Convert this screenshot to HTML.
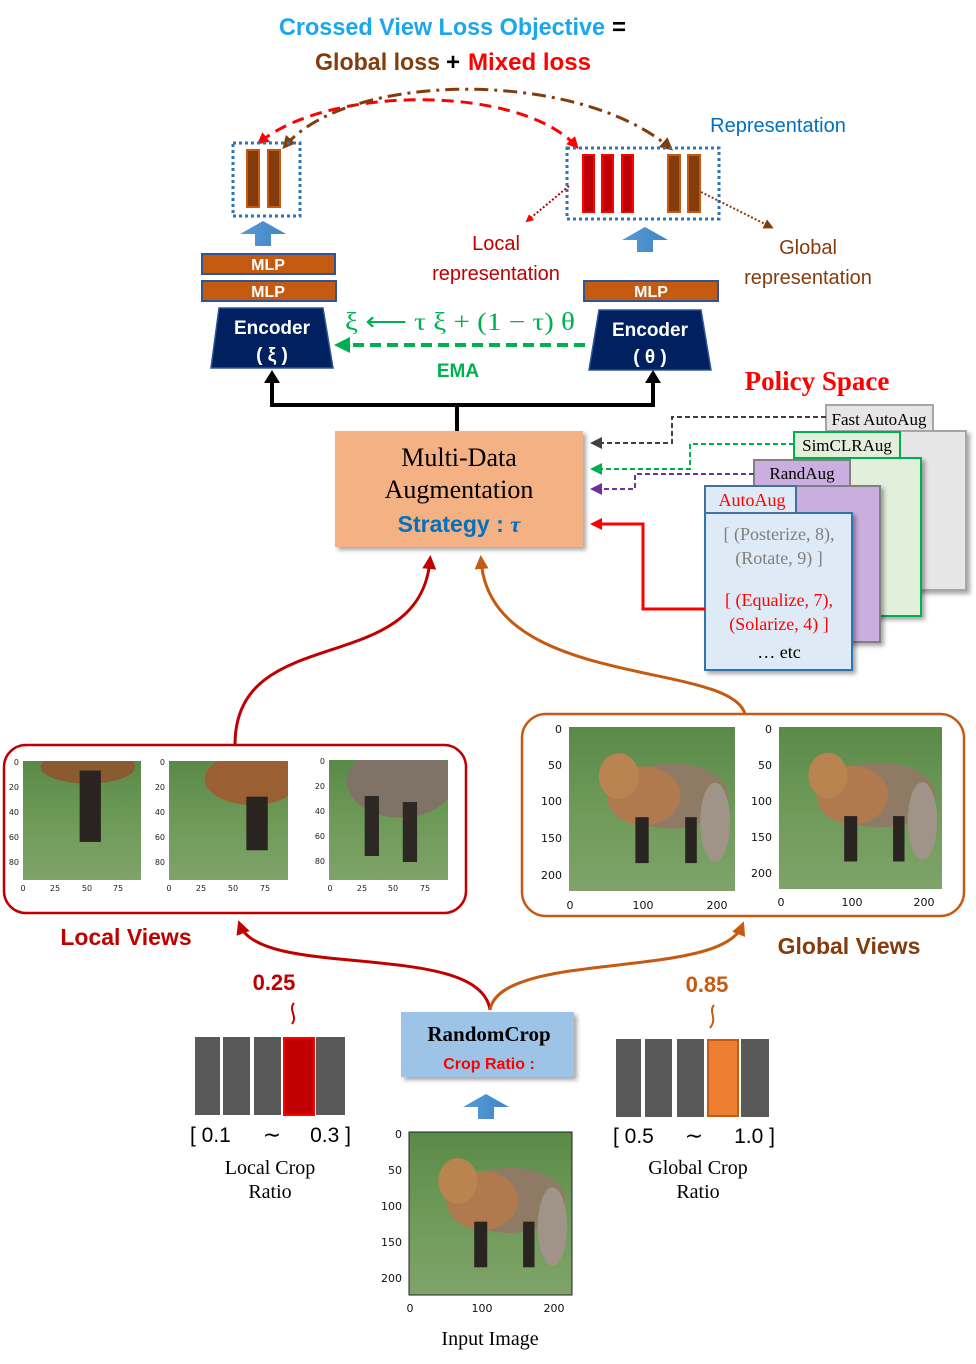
<!DOCTYPE html>
<html><head><meta charset="utf-8"><style>
html,body{margin:0;padding:0;background:#fff;}
svg{display:block;}
.cal{font-family:"Liberation Sans",sans-serif;}
.ser{font-family:"Liberation Serif",serif;}
.ax{font-family:"DejaVu Sans","Liberation Sans",sans-serif;font-size:11px;fill:#111;}
.axs{font-family:"DejaVu Sans","Liberation Sans",sans-serif;font-size:8px;fill:#222;}
</style></head><body>
<svg width="976" height="1364" viewBox="0 0 976 1364" xmlns="http://www.w3.org/2000/svg">
<defs>
<linearGradient id="grass" x1="0" y1="0" x2="0" y2="1">
<stop offset="0" stop-color="#5a8a48"/><stop offset="0.5" stop-color="#6e9a58"/><stop offset="1" stop-color="#7fa36a"/></linearGradient>
<linearGradient id="blueup" x1="0" y1="0" x2="1" y2="0"><stop offset="0" stop-color="#5b9bd5"/><stop offset="1" stop-color="#3d85c6"/></linearGradient>
<symbol id="fox" viewBox="0 0 100 100" preserveAspectRatio="none">
<rect width="100" height="100" fill="url(#grass)"/>
<ellipse cx="62" cy="42" rx="34" ry="20" fill="#8f7a66"/>
<ellipse cx="45" cy="42" rx="22" ry="18" fill="#b07a4e"/>
<ellipse cx="30" cy="30" rx="12" ry="14" fill="#b9844f"/>
<ellipse cx="88" cy="58" rx="9" ry="24" fill="#a09488"/>
<rect x="40" y="55" width="8" height="28" fill="#2a2420"/>
<rect x="70" y="55" width="7" height="28" fill="#2a2420"/>
</symbol>
<symbol id="loc1" viewBox="0 0 100 100" preserveAspectRatio="none">
<rect width="100" height="100" fill="url(#grass)"/>
<ellipse cx="55" cy="5" rx="40" ry="14" fill="#8a5a30"/>
<rect x="48" y="8" width="18" height="60" fill="#2a2420"/>
</symbol>
<symbol id="loc2" viewBox="0 0 100 100" preserveAspectRatio="none">
<rect width="100" height="100" fill="url(#grass)"/>
<ellipse cx="70" cy="15" rx="40" ry="22" fill="#9a6034"/>
<rect x="65" y="30" width="18" height="45" fill="#2a2420"/>
</symbol>
<symbol id="loc3" viewBox="0 0 100 100" preserveAspectRatio="none">
<rect width="100" height="100" fill="url(#grass)"/>
<ellipse cx="60" cy="18" rx="45" ry="30" fill="#7f7266"/>
<rect x="30" y="30" width="12" height="50" fill="#2e2824"/>
<rect x="62" y="35" width="12" height="50" fill="#2e2824"/>
</symbol>
<marker id="ar" markerWidth="8" markerHeight="8" refX="6" refY="4" orient="auto" markerUnits="userSpaceOnUse"><path d="M0,0 L8,4 L0,8 z" fill="#ff0000"/></marker>
<marker id="ab" markerWidth="10" markerHeight="10" refX="7" refY="5" orient="auto-start-reverse" markerUnits="userSpaceOnUse"><path d="M0,0 L10,5 L0,10 z" fill="#843c0c"/></marker>
<marker id="ab2" markerWidth="13" markerHeight="13" refX="9" refY="6.5" orient="auto-start-reverse" markerUnits="userSpaceOnUse"><path d="M0,0 L13,6.5 L0,13 z" fill="#843c0c"/></marker>
<marker id="ar2" markerWidth="12" markerHeight="12" refX="8" refY="6" orient="auto-start-reverse" markerUnits="userSpaceOnUse"><path d="M0,0 L12,6 L0,12 z" fill="#ff0000"/></marker>
<marker id="ak" markerWidth="12" markerHeight="12" refX="8" refY="6" orient="auto" markerUnits="userSpaceOnUse"><path d="M0,0 L12,6 L0,12 z" fill="#404040"/></marker>
<marker id="ag" markerWidth="12" markerHeight="12" refX="8" refY="6" orient="auto" markerUnits="userSpaceOnUse"><path d="M0,0 L12,6 L0,12 z" fill="#00b050"/></marker>
<marker id="ap" markerWidth="12" markerHeight="12" refX="8" refY="6" orient="auto" markerUnits="userSpaceOnUse"><path d="M0,0 L12,6 L0,12 z" fill="#7030a0"/></marker>
<marker id="adr" markerWidth="14" markerHeight="14" refX="9" refY="7" orient="auto" markerUnits="userSpaceOnUse"><path d="M0,0 L14,7 L0,14 z" fill="#c00000"/></marker>
<marker id="ado" markerWidth="14" markerHeight="14" refX="9" refY="7" orient="auto" markerUnits="userSpaceOnUse"><path d="M0,0 L14,7 L0,14 z" fill="#c55a11"/></marker>
<filter id="sh" x="-10%" y="-10%" width="130%" height="130%"><feDropShadow dx="3" dy="3" stdDeviation="2" flood-color="#000" flood-opacity="0.35"/></filter>
</defs>

<!-- Title -->
<text x="279" y="35" class="cal" font-size="24" font-weight="bold" fill="#1aa7ec" textLength="326" lengthAdjust="spacingAndGlyphs">Crossed View Loss Objective</text>
<text x="612" y="35" class="cal" font-size="24" font-weight="bold" fill="#000">=</text>
<text x="315" y="70" class="cal" font-size="24" font-weight="bold" fill="#843c0c" textLength="125" lengthAdjust="spacingAndGlyphs">Global loss</text>
<text x="446" y="70" class="cal" font-size="24" font-weight="bold" fill="#000">+</text>
<text x="468" y="70" class="cal" font-size="24" font-weight="bold" fill="#ff0000" textLength="123" lengthAdjust="spacingAndGlyphs">Mixed loss</text>

<!-- loss arcs -->
<path d="M576,146 C520,85 330,85 260,142" fill="none" stroke="#ff0000" stroke-width="3" stroke-dasharray="12,7" marker-start="url(#ar2)" marker-end="url(#ar2)"/>
<path d="M285,146 C350,70 580,70 670,148" fill="none" stroke="#843c0c" stroke-width="3" stroke-dasharray="14,6,3,6" marker-start="url(#ab2)" marker-end="url(#ab2)"/>

<!-- left repr -->
<rect x="233" y="143" width="67" height="73" fill="none" stroke="#2e75b6" stroke-width="3" stroke-dasharray="3,3"/>
<rect x="247" y="150" width="12" height="57" fill="#843c0c" stroke="#c55a11" stroke-width="2"/>
<rect x="268" y="150" width="12" height="57" fill="#843c0c" stroke="#c55a11" stroke-width="2"/>
<!-- right repr -->
<rect x="567" y="148" width="152" height="71" fill="none" stroke="#2e75b6" stroke-width="3" stroke-dasharray="3,3"/>
<rect x="583" y="155" width="11" height="57" fill="#c00000" stroke="#ff0000" stroke-width="2"/>
<rect x="602" y="155" width="11" height="57" fill="#c00000" stroke="#ff0000" stroke-width="2"/>
<rect x="622" y="155" width="11" height="57" fill="#c00000" stroke="#ff0000" stroke-width="2"/>
<rect x="668" y="155" width="12" height="57" fill="#843c0c" stroke="#c55a11" stroke-width="2"/>
<rect x="688" y="155" width="12" height="57" fill="#843c0c" stroke="#c55a11" stroke-width="2"/>
<text x="778" y="132" class="cal" font-size="20" fill="#0070c0" text-anchor="middle">Representation</text>
<path d="M569,186 L527,221" stroke="#c00000" stroke-width="2" stroke-dasharray="2,2" marker-end="url(#ar)"/>
<path d="M701,192 L771,227" stroke="#843c0c" stroke-width="2" stroke-dasharray="2,2" marker-end="url(#ab)"/>
<text x="496" y="250" class="cal" font-size="20" fill="#c00000" text-anchor="middle">Local</text>
<text x="496" y="280" class="cal" font-size="20" fill="#c00000" text-anchor="middle">representation</text>
<text x="808" y="254" class="cal" font-size="20" fill="#843c0c" text-anchor="middle">Global</text>
<text x="808" y="284" class="cal" font-size="20" fill="#843c0c" text-anchor="middle">representation</text>

<!-- up arrows -->
<path d="M255,246 L255,234 L240,234 L263,221 L286,234 L271,234 L271,246 z" fill="url(#blueup)"/>
<path d="M637,252 L637,240 L622,240 L645,227 L668,240 L653,240 L653,252 z" fill="url(#blueup)"/>

<!-- MLPs -->
<rect x="202" y="254" width="133" height="20" fill="#c55a11" stroke="#2f5597" stroke-width="2"/>
<text x="268" y="270" class="cal" font-size="16" font-weight="bold" fill="#fff" text-anchor="middle">MLP</text>
<rect x="202" y="281" width="134" height="20" fill="#c55a11" stroke="#2f5597" stroke-width="2"/>
<text x="268" y="297" class="cal" font-size="16" font-weight="bold" fill="#fff" text-anchor="middle">MLP</text>
<rect x="584" y="281" width="134" height="20" fill="#c55a11" stroke="#2f5597" stroke-width="2"/>
<text x="651" y="297" class="cal" font-size="16" font-weight="bold" fill="#fff" text-anchor="middle">MLP</text>

<!-- Encoders -->
<path d="M219,308 L323,308 L333,368 L211,368 z" fill="#002060" stroke="#2f5597" stroke-width="1.5"/>
<text x="272" y="334" class="cal" font-size="19" font-weight="bold" fill="#fff" text-anchor="middle">Encoder</text>
<text x="272" y="361" class="cal" font-size="19" font-weight="bold" fill="#fff" text-anchor="middle">( ξ )</text>
<path d="M599,310 L701,310 L711,370 L589,370 z" fill="#002060" stroke="#2f5597" stroke-width="1.5"/>
<text x="650" y="336" class="cal" font-size="19" font-weight="bold" fill="#fff" text-anchor="middle">Encoder</text>
<text x="650" y="363" class="cal" font-size="19" font-weight="bold" fill="#fff" text-anchor="middle">( θ )</text>

<!-- EMA -->
<text x="460" y="330" class="ser" font-size="25" fill="#00b050" text-anchor="middle" textLength="230" lengthAdjust="spacingAndGlyphs">ξ ⟵ τ ξ + (1 − τ) θ</text>
<line x1="585" y1="345" x2="348" y2="345" stroke="#00b050" stroke-width="4" stroke-dasharray="11,6"/>
<path d="M334,345 L350,337 L350,353 z" fill="#00b050"/>
<text x="458" y="377" class="cal" font-size="19" font-weight="bold" fill="#00b050" text-anchor="middle">EMA</text>

<!-- black connectors -->
<path d="M457,431 L457,405 L272,405 L272,380 M457,405 L653,405 L653,380" fill="none" stroke="#000" stroke-width="4"/>
<path d="M264,383 L272,370 L280,383 z" fill="#000"/>
<path d="M645,383 L653,370 L661,383 z" fill="#000"/>

<!-- Multi-data box -->
<rect x="335" y="431" width="248" height="116" fill="#f4b183" filter="url(#sh)"/>
<text x="459" y="466" class="ser" font-size="26" fill="#000" text-anchor="middle">Multi-Data</text>
<text x="459" y="498" class="ser" font-size="26" fill="#000" text-anchor="middle">Augmentation</text>
<text x="459" y="532" class="cal" font-size="23" font-weight="bold" fill="#0070c0" text-anchor="middle">Strategy : <tspan class="ser" font-style="italic">τ</tspan></text>

<text x="817" y="390" class="ser" font-size="27" font-weight="bold" fill="#ff0000" text-anchor="middle">Policy Space</text>

<!-- policy cards -->
<rect x="826" y="431" width="140" height="159" fill="#e7e6e6" stroke="#a6a6a6" stroke-width="2" filter="url(#sh)"/>
<rect x="826" y="405" width="107" height="26" fill="#e7e6e6" stroke="#a6a6a6" stroke-width="2"/>
<text x="879" y="425" class="ser" font-size="17" fill="#000" text-anchor="middle">Fast AutoAug</text>
<rect x="794" y="458" width="127" height="158" fill="#e2efda" stroke="#00b050" stroke-width="2" filter="url(#sh)"/>
<rect x="794" y="432" width="106" height="26" fill="#e2efda" stroke="#00b050" stroke-width="2"/>
<text x="847" y="451" class="ser" font-size="17" fill="#000" text-anchor="middle">SimCLRAug</text>
<rect x="754" y="486" width="126" height="156" fill="#cbaee0" stroke="#808080" stroke-width="2" filter="url(#sh)"/>
<rect x="754" y="460" width="96" height="26" fill="#cbaee0" stroke="#808080" stroke-width="2"/>
<text x="802" y="479" class="ser" font-size="17" fill="#000" text-anchor="middle">RandAug</text>
<rect x="705" y="513" width="147" height="157" fill="#deebf7" stroke="#2e75b6" stroke-width="2" filter="url(#sh)"/>
<rect x="705" y="486" width="91" height="27" fill="#deebf7" stroke="#41719c" stroke-width="2"/>
<text x="752" y="506" class="ser" font-size="18" fill="#ff0000" text-anchor="middle">AutoAug</text>
<text x="779" y="540" class="ser" font-size="18" fill="#7f7f7f" text-anchor="middle">[ (Posterize, 8),</text>
<text x="779" y="564" class="ser" font-size="18" fill="#7f7f7f" text-anchor="middle">(Rotate, 9) ]</text>
<text x="779" y="606" class="ser" font-size="18" fill="#ff0000" text-anchor="middle">[ (Equalize, 7),</text>
<text x="779" y="630" class="ser" font-size="18" fill="#ff0000" text-anchor="middle">(Solarize, 4) ]</text>
<text x="779" y="658" class="ser" font-size="18" fill="#000" text-anchor="middle">… etc</text>

<!-- policy connectors -->
<path d="M826,417 L672,417 L672,443 L594,443" fill="none" stroke="#404040" stroke-width="2" stroke-dasharray="5,3" marker-end="url(#ak)"/>
<path d="M794,444 L690,444 L690,469 L594,469" fill="none" stroke="#00b050" stroke-width="2" stroke-dasharray="5,3" marker-end="url(#ag)"/>
<path d="M754,474 L635,474 L635,489 L594,489" fill="none" stroke="#7030a0" stroke-width="2" stroke-dasharray="5,3" marker-end="url(#ap)"/>
<path d="M705,609 L643,609 L643,524 L594,524" fill="none" stroke="#ff0000" stroke-width="3" marker-end="url(#ar2)"/>

<!-- curves to multi box -->
<path d="M235,745 C235,620 420,680 430,560" fill="none" stroke="#c00000" stroke-width="3" marker-end="url(#adr)"/>
<path d="M745,714 C730,660 490,690 481,560" fill="none" stroke="#c55a11" stroke-width="3" marker-end="url(#ado)"/>

<!-- Local views -->
<rect x="4" y="745" width="462" height="168" rx="22" fill="#fff" stroke="#c00000" stroke-width="2.5"/>
<use href="#loc1" x="23" y="761" width="118" height="119"/>
<use href="#loc2" x="169" y="761" width="119" height="119"/>
<use href="#loc3" x="329" y="760" width="119" height="120"/>
<g class="axs" text-anchor="end">
<text x="19" y="765">0</text><text x="19" y="790">20</text><text x="19" y="815">40</text><text x="19" y="840">60</text><text x="19" y="865">80</text>
<text x="165" y="765">0</text><text x="165" y="790">20</text><text x="165" y="815">40</text><text x="165" y="840">60</text><text x="165" y="865">80</text>
<text x="325" y="764">0</text><text x="325" y="789">20</text><text x="325" y="814">40</text><text x="325" y="839">60</text><text x="325" y="864">80</text>
</g>
<g class="axs" text-anchor="middle">
<text x="23" y="891">0</text><text x="55" y="891">25</text><text x="87" y="891">50</text><text x="118" y="891">75</text>
<text x="169" y="891">0</text><text x="201" y="891">25</text><text x="233" y="891">50</text><text x="265" y="891">75</text>
<text x="330" y="891">0</text><text x="362" y="891">25</text><text x="393" y="891">50</text><text x="425" y="891">75</text>
</g>

<!-- Global views -->
<rect x="522" y="714" width="442" height="202" rx="24" fill="#fff" stroke="#c55a11" stroke-width="2.5"/>
<use href="#fox" x="569" y="727" width="166" height="164"/>
<use href="#fox" x="779" y="727" width="163" height="162"/>
<g class="ax" text-anchor="end">
<text x="562" y="733">0</text><text x="562" y="769">50</text><text x="562" y="805">100</text><text x="562" y="842">150</text><text x="562" y="879">200</text>
<text x="772" y="733">0</text><text x="772" y="769">50</text><text x="772" y="805">100</text><text x="772" y="841">150</text><text x="772" y="877">200</text>
</g>
<g class="ax" text-anchor="middle">
<text x="570" y="909">0</text><text x="643" y="909">100</text><text x="717" y="909">200</text>
<text x="781" y="906">0</text><text x="852" y="906">100</text><text x="924" y="906">200</text>
</g>

<text x="126" y="945" class="cal" font-size="23" font-weight="bold" fill="#c00000" text-anchor="middle">Local Views</text>
<text x="849" y="954" class="cal" font-size="23" font-weight="bold" fill="#843c0c" text-anchor="middle">Global Views</text>

<!-- curves from randomcrop -->
<path d="M490,1010 C480,940 260,980 240,925" fill="none" stroke="#c00000" stroke-width="3" marker-end="url(#adr)"/>
<path d="M490,1010 C500,950 720,980 742,926" fill="none" stroke="#c55a11" stroke-width="3" marker-end="url(#ado)"/>

<!-- local crop bars -->
<text x="274" y="990" class="cal" font-size="22" font-weight="bold" fill="#c00000" text-anchor="middle">0.25</text>
<path d="M294,1003 C288,1010 298,1016 292,1024" fill="none" stroke="#c00000" stroke-width="2"/>
<g fill="#595959">
<rect x="195" y="1037" width="25" height="78"/><rect x="223" y="1037" width="27" height="78"/><rect x="254" y="1037" width="27" height="78"/><rect x="316" y="1037" width="29" height="78"/>
</g>
<rect x="284" y="1038" width="30" height="77" fill="#c00000" stroke="#ff0000" stroke-width="2"/>
<text x="190" y="1142" class="cal" font-size="21" fill="#000">[ 0.1</text>
<text x="272" y="1142" class="cal" font-size="22" fill="#000" text-anchor="middle">∼</text>
<text x="351" y="1142" class="cal" font-size="21" fill="#000" text-anchor="end">0.3 ]</text>
<text x="270" y="1174" class="ser" font-size="20" fill="#000" text-anchor="middle">Local Crop</text>
<text x="270" y="1198" class="ser" font-size="20" fill="#000" text-anchor="middle">Ratio</text>

<!-- global crop bars -->
<text x="707" y="992" class="cal" font-size="22" font-weight="bold" fill="#c55a11" text-anchor="middle">0.85</text>
<path d="M714,1005 C708,1012 718,1018 710,1028" fill="none" stroke="#c55a11" stroke-width="2"/>
<g fill="#595959">
<rect x="616" y="1039" width="25" height="78"/><rect x="645" y="1039" width="27" height="78"/><rect x="677" y="1039" width="27" height="78"/><rect x="741" y="1039" width="28" height="78"/>
</g>
<rect x="708" y="1040" width="30" height="76" fill="#ed7d31" stroke="#c55a11" stroke-width="2"/>
<text x="613" y="1143" class="cal" font-size="21" fill="#000">[ 0.5</text>
<text x="694" y="1143" class="cal" font-size="22" fill="#000" text-anchor="middle">∼</text>
<text x="775" y="1143" class="cal" font-size="21" fill="#000" text-anchor="end">1.0 ]</text>
<text x="698" y="1174" class="ser" font-size="20" fill="#000" text-anchor="middle">Global Crop</text>
<text x="698" y="1198" class="ser" font-size="20" fill="#000" text-anchor="middle">Ratio</text>

<!-- RandomCrop -->
<rect x="401" y="1012" width="173" height="65" fill="#9dc3e6" filter="url(#sh)"/>
<text x="489" y="1041" class="ser" font-size="21" font-weight="bold" fill="#000" text-anchor="middle">RandomCrop</text>
<text x="489" y="1069" class="cal" font-size="16" font-weight="bold" fill="#ff0000" text-anchor="middle">Crop Ratio :</text>
<path d="M478,1119 L478,1107 L463,1107 L486,1094 L509,1107 L494,1107 L494,1119 z" fill="url(#blueup)"/>

<!-- Input image -->
<use href="#fox" x="409" y="1132" width="163" height="163"/>
<rect x="409" y="1132" width="163" height="163" fill="none" stroke="#222" stroke-width="1"/>
<g class="ax" text-anchor="end">
<text x="402" y="1138">0</text><text x="402" y="1174">50</text><text x="402" y="1210">100</text><text x="402" y="1246">150</text><text x="402" y="1282">200</text>
</g>
<g class="ax" text-anchor="middle">
<text x="410" y="1312">0</text><text x="482" y="1312">100</text><text x="554" y="1312">200</text>
</g>
<text x="490" y="1345" class="ser" font-size="20" fill="#000" text-anchor="middle">Input Image</text>
</svg>
</body></html>
